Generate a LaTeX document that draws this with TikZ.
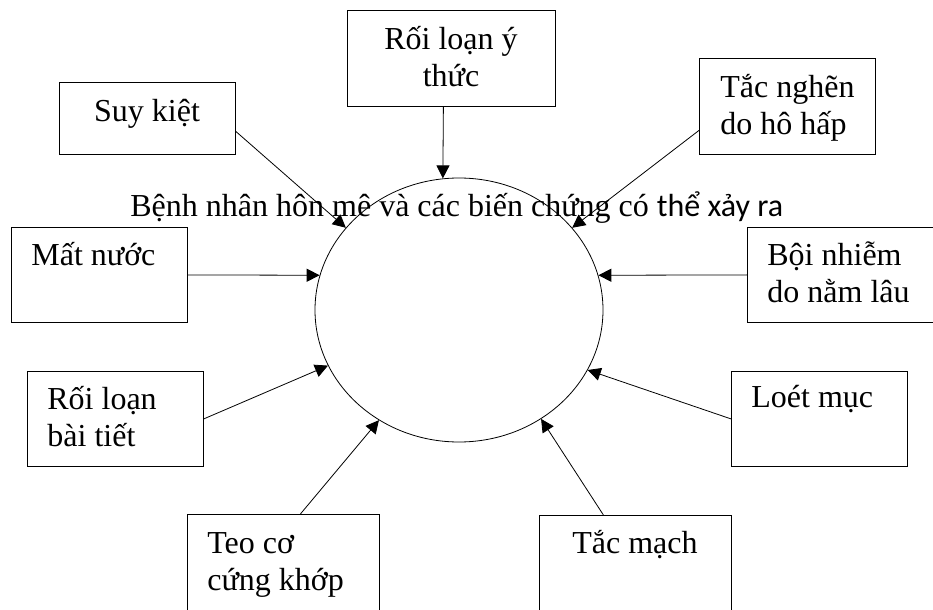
\documentclass[tikz,border=0pt]{standalone}
\usepackage{fontspec}
\setmainfont{Liberation Serif}
\newfontfamily\calibri{Carlito}
\usetikzlibrary{arrows.meta,shapes.geometric}

\begin{document}
\begin{tikzpicture}[x=0.5pt, y=-0.5pt, >={Triangle[length=6.5pt,width=6.5pt]},
  causebox/.style={draw, rectangle, inner sep=0pt, anchor=north west},
  causetext/.style={font=\fontsize{16}{18.5}\selectfont, inner sep=0pt, align=left, anchor=base west}]

\def \w {88pt}
\def \h {47.5pt} % one box is 176 x 95 units
\useasboundingbox (0,0) rectangle (933,610);
\clip (0,0) rectangle (933,610);

\node[draw, ellipse, minimum width=144pt, minimum height=132pt, inner sep=0pt] (coma) at (459,310) {};

\node[causebox, minimum width=\w, minimum height=36pt] (suy) at (59,82) {};
\node[causebox, minimum width=104pt, minimum height=48pt] (thuc) at (347,10) {};
\node[causebox, minimum width=\w, minimum height=48pt] (nghen) at (699,58) {};
\node[causebox, minimum width=\w, minimum height=\h] (mat) at (11,227) {};
\node[causebox, minimum width=100pt, minimum height=\h] (boi) at (747,227) {};
\node[causebox, minimum width=\w, minimum height=\h] (baitiet) at (27,371) {};
\node[causebox, minimum width=\w, minimum height=\h] (loet) at (731,371) {};
\node[causebox, minimum width=96pt, minimum height=60pt] (teo) at (187,514) {};
\node[causebox, minimum width=96pt, minimum height=60pt] (tacmach) at (539,515) {};

% two-line texts sit on their last line
\node[causetext, anchor=base] (suy-txt) at (147,122) {Suy kiệt};
\node[causetext, align=center, anchor=base] (thuc-txt) at (451,87) {Rối loạn ý\\thức};
\node[causetext] (nghen-txt) at (720,135) {Tắc nghẽn\\do hô hấp};
\node[causetext] (mat-txt) at (31,265) {Mất nước};
\node[causetext] (boi-txt) at (767,302) {Bội nhiễm\\do nằm lâu};
\node[causetext] (baitiet-txt) at (47,446) {Rối loạn\\bài tiết};
\node[causetext] (loet-txt) at (751,408) {Loét mục};
\node[causetext] (teo-txt) at (207,590) {Teo cơ\\cứng khớp};
\node[causetext, anchor=base] (tacmach-txt) at (635,553) {Tắc mạch};
\node[causetext] (title) at (130,217) {Bệnh nhân hôn mê và các biến chứng có {\calibri thể xảy ra}};

\coordinate (suy-out) at ([yshift=-6.5pt]suy.east);
\coordinate (thuc-out) at ([xshift=-4pt]thuc.south);
\coordinate (nghen-out) at ([yshift=-12pt]nghen.west);
\coordinate (mat-out) at (mat.east);
\coordinate (boi-out) at (boi.west);
\coordinate (baitiet-out) at (baitiet.east);
\coordinate (loet-out) at (loet.west);
\coordinate (teo-out) at ([xshift=8.5pt]teo.north);
\coordinate (tacmach-out) at ([xshift=-16pt]tacmach.north);

\foreach \src/\ang in {suy/144, thuc/97, nghen/36, mat/166, boi/14, baitiet/-157, loet/-25, teo/-126, tacmach/-53}
  \draw[->] (\src-out) -- (coma.\ang);
\end{tikzpicture}
\end{document}
